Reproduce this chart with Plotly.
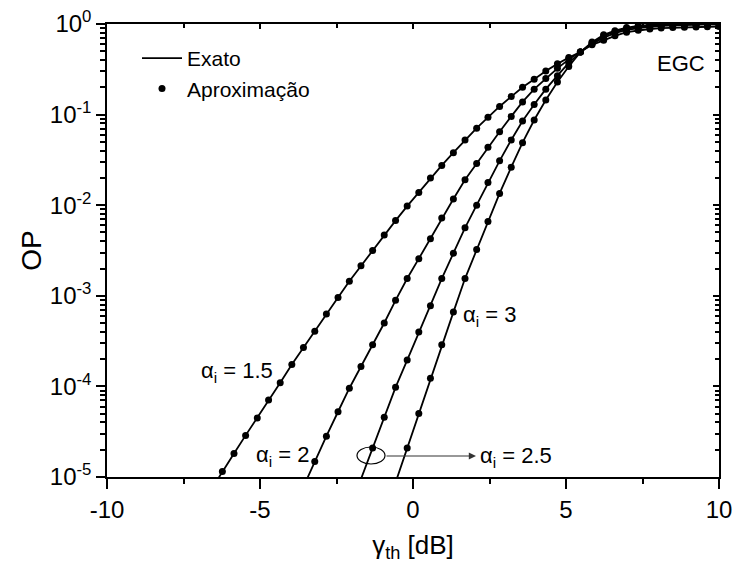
import plotly.graph_objects as go

# ---- data ----
gamma_th_db = [-10.00, -9.62, -9.25, -8.87, -8.49, -8.11, -7.74, -7.36, -6.98, -6.60,
               -6.23, -5.85, -5.47, -5.09, -4.72, -4.34, -3.96, -3.58, -3.21, -2.83,
               -2.45, -2.08, -1.70, -1.32, -0.94, -0.57, -0.19, 0.19, 0.57, 0.94,
               1.32, 1.70, 2.08, 2.45, 2.83, 3.21, 3.58, 3.96, 4.34, 4.72,
               5.09, 5.47, 5.85, 6.23, 6.60, 6.98, 7.36, 7.74, 8.11, 8.49,
               8.87, 9.25, 9.62, 10.00]

# OP values (each list ends at 10 dB)
op_alpha_15 = [7.2e-6, 1.15e-5, 1.82e-5, 2.88e-5, 4.47e-5, 7.08e-5, 1.10e-4, 1.74e-4, 2.69e-4,
               4.07e-4, 6.31e-4, 9.55e-4, 1.45e-3, 2.14e-3, 3.16e-3, 4.68e-3, 6.76e-3, 9.77e-3,
               1.38e-2, 2.00e-2, 2.75e-2, 3.80e-2, 5.25e-2, 7.08e-2, 9.33e-2, 0.123, 0.158,
               0.200, 0.245, 0.302, 0.363, 0.427, 0.490, 0.589, 0.661, 0.741, 0.813, 0.851,
               0.881, 0.902, 0.912, 0.923, 0.929, 0.933, 0.938]
op_alpha_2 = [7.8e-6, 1.48e-5, 2.82e-5, 5.25e-5, 9.55e-5, 1.66e-4, 2.88e-4, 5.01e-4, 8.91e-4,
              1.55e-3, 2.57e-3, 4.27e-3, 7.24e-3, 1.17e-2, 1.91e-2, 2.88e-2, 4.37e-2, 6.46e-2,
              9.55e-2, 0.138, 0.191, 0.251, 0.324, 0.407, 0.490, 0.603, 0.708, 0.794, 0.859,
              0.902, 0.933, 0.955, 0.968, 0.977, 0.984, 0.989, 0.991]
op_alpha_25 = [9.5e-6, 2.09e-5, 4.57e-5, 9.77e-5, 1.95e-4, 3.98e-4, 7.76e-4, 1.55e-3, 2.95e-3,
               5.62e-3, 1.00e-2, 1.78e-2, 3.09e-2, 5.25e-2, 8.51e-2, 0.129, 0.191, 0.269, 0.372,
               0.490, 0.617, 0.741, 0.822, 0.891, 0.933, 0.959, 0.977, 0.986, 0.991, 0.995,
               0.997, 0.998]
op_alpha_3 = [8.7e-6, 2.09e-5, 5.01e-5, 1.23e-4, 2.88e-4, 6.61e-4, 1.55e-3, 3.24e-3, 6.61e-3,
              1.35e-2, 2.63e-2, 4.90e-2, 8.71e-2, 0.145, 0.229, 0.339, 0.490, 0.631, 0.759,
              0.843, 0.912, 0.955, 0.977, 0.989, 0.995, 0.998, 0.999, 0.9995, 0.9998]

series = [op_alpha_15, op_alpha_2, op_alpha_25, op_alpha_3]
x_ticks = [-10, -5, 0, 5, 10]
x_tick_text = ["-10", "-5", "0", "5", "10"]
y_tick_vals = [1e-5, 1e-4, 1e-3, 1e-2, 1e-1, 1]
y_tick_text = ["10<sup>-5</sup>", "10<sup>-4</sup>", "10<sup>-3</sup>",
               "10<sup>-2</sup>", "10<sup>-1</sup>", "10<sup>0</sup>"]
y_minor_vals = [m * 10.0 ** e for e in range(-5, 0) for m in range(2, 10)]
y_min = 1e-5

FONT = "Liberation Sans, Arial, sans-serif"

fig = go.Figure()
for i, op in enumerate(series):
    xs = gamma_th_db[-len(op):]
    fig.add_trace(go.Scatter(x=xs, y=op, mode="lines",
                             line=dict(color="black", width=1.8),
                             name="Exato", legendgroup="exato", showlegend=(i == 0)))
for i, op in enumerate(series):
    xs = gamma_th_db[-len(op):]
    px = [x for x, y in zip(xs, op) if y >= y_min]
    py = [y for y in op if y >= y_min]
    fig.add_trace(go.Scatter(x=px, y=py, mode="markers",
                             marker=dict(color="black", size=7),
                             name="Aproximação", legendgroup="aprox", showlegend=(i == 0)))

# dummy trace so the mirrored (top/right) axes render
fig.add_trace(go.Scatter(x=[None], y=[None], xaxis="x2", yaxis="y2",
                         showlegend=False, hoverinfo="skip"))

L, R, T, B = 107, 16, 24, 88
W, H = 735, 565
PW, PH = W - L - R, H - T - B


def px2paper(xp, yp):
    return (xp - L) / PW, (H - B - yp) / PH


ann = []
def label(text, xp, yp, size=22, xanchor="left"):
    x, y = px2paper(xp, yp)
    ann.append(dict(text=text, x=x, y=y, xref="paper", yref="paper", showarrow=False,
                    xanchor=xanchor, yanchor="middle", font=dict(size=size, color="black")))

label("EGC", 681, 63, xanchor="center")
label("α<sub>i</sub> = 1.5", 199, 372)
label("α<sub>i</sub> = 2", 254, 456)
label("α<sub>i</sub> = 3", 461, 316)
label("α<sub>i</sub> = 2.5", 478, 457)

ax_, ay_ = px2paper(476, 456)
ann.append(dict(text="", x=ax_, y=ay_, xref="paper", yref="paper", showarrow=True,
                ax=-91, ay=0, arrowhead=2, arrowsize=1.2, arrowwidth=1.2,
                arrowcolor="#333333"))

ex0, ey0 = px2paper(357, 464)
ex1, ey1 = px2paper(385, 447)
shapes = [dict(type="circle", xref="paper", yref="paper", x0=ex0, y0=ey0, x1=ex1, y1=ey1,
               line=dict(color="black", width=1.2))]

axis_common = dict(showgrid=False, zeroline=False, showline=True, linecolor="black",
                   linewidth=1.5, tickcolor="black", tickwidth=1.5)

lx, ly = px2paper(137, 38)

fig.update_layout(
    width=W, height=H,
    margin=dict(l=L, r=R, t=T, b=B, autoexpand=False),
    paper_bgcolor="white", plot_bgcolor="white",
    font=dict(family=FONT, color="black"),
    showlegend=True,
    legend=dict(x=lx, y=ly, xanchor="left", yanchor="top",
                bgcolor="rgba(0,0,0,0)", font=dict(size=21), tracegroupgap=0,
                itemwidth=40),
    xaxis=dict(range=[-10, 10], tickmode="array", tickvals=x_ticks, ticktext=x_tick_text,
               ticks="outside", ticklen=10, tickfont=dict(size=24),
               minor=dict(dtick=2.5, tick0=0, ticks="outside", ticklen=5,
                          tickwidth=1.5, tickcolor="black"),
               title=dict(text="γ<sub>th</sub> [dB]", font=dict(size=26), standoff=14),
               **axis_common),
    yaxis=dict(type="log", range=[-5, 0], tickmode="array", tickvals=y_tick_vals,
               ticktext=y_tick_text, ticks="outside", ticklen=9, tickfont=dict(size=24),
               minor=dict(tickmode="array", tickvals=y_minor_vals, ticks="outside",
                          ticklen=5, tickwidth=1.5, tickcolor="black"),
               title=dict(text="OP", font=dict(size=28), standoff=0),
               **axis_common),
    xaxis2=dict(overlaying="x", side="top", anchor="y", range=[-10, 10], tickmode="array",
                tickvals=x_ticks, ticks="inside", ticklen=5, showticklabels=False,
                minor=dict(dtick=2.5, tick0=0, ticks="inside", ticklen=4, tickwidth=1.5,
                           tickcolor="black"),
                **axis_common),
    yaxis2=dict(overlaying="y", side="right", anchor="x", type="log", range=[-5, 0],
                tickmode="array", tickvals=y_tick_vals, ticks="inside", ticklen=6,
                showticklabels=False,
                minor=dict(tickmode="array", tickvals=y_minor_vals, ticks="inside",
                           ticklen=4, tickwidth=1.5, tickcolor="black"),
                **axis_common),
    annotations=ann,
    shapes=shapes,
)

fig.write_html("out.html")
